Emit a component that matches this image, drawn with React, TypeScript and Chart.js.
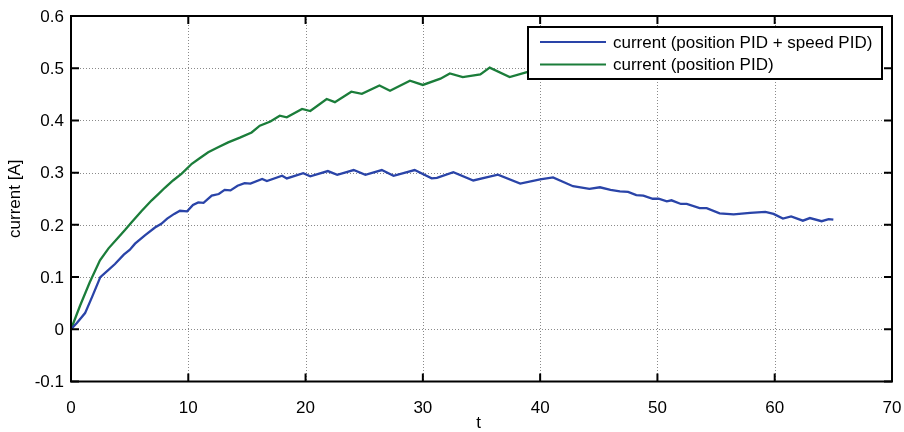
import { useEffect, useRef } from "react";
import { Chart, registerables } from "chart.js";

Chart.register(...registerables);

// Time samples and motor current for the cascaded controller
const tCascade = [
  0, 0.5, 1.2, 1.8, 2.5, 3.1, 3.75, 4.5, 5.0, 5.46, 6.3, 7.16, 7.7, 8.2, 8.8, 9.29, 9.9, 10.4, 10.85, 11.3,
  12.0, 12.6, 13.1, 13.6, 14.2, 14.8, 15.3, 16.3, 16.7, 18.0, 18.4, 19.8, 20.4, 21.9, 22.7, 24.1, 25.1, 26.5,
  27.5, 29.3, 30.75, 31.2, 32.6, 34.3, 36.4, 38.3, 40.0, 41.1, 42.8, 44.2, 45.1, 46.0, 46.8, 47.5, 48.2, 48.8,
  49.6, 50.1, 50.8, 51.2, 52.0, 52.5, 53.6, 54.2, 55.3, 56.5, 57.9, 59.2, 59.9, 60.7, 61.4, 62.4, 63.0, 64.0,
  64.6, 65.0,
];
const currentCascade = [
  0, 0.012, 0.031, 0.062, 0.1, 0.112, 0.125, 0.143, 0.152, 0.164, 0.18, 0.195, 0.202, 0.212, 0.221, 0.227,
  0.226, 0.238, 0.243, 0.242, 0.256, 0.259, 0.267, 0.266, 0.275, 0.28, 0.279, 0.288, 0.284, 0.294, 0.289,
  0.299, 0.293, 0.303, 0.296, 0.305, 0.296, 0.305, 0.294, 0.305, 0.289, 0.29, 0.301, 0.285, 0.296, 0.279,
  0.287, 0.291, 0.274, 0.269, 0.272, 0.267, 0.264, 0.263, 0.257, 0.256, 0.25, 0.25, 0.245, 0.247, 0.24, 0.24,
  0.232, 0.232, 0.222, 0.22, 0.223, 0.225, 0.221, 0.212, 0.216, 0.208, 0.213, 0.207, 0.211, 0.21,
];

// Time samples and motor current with the position loop only
const tPosition = [
  0, 0.77, 1.6, 2.47, 3.2, 4.03, 4.6, 5.17, 6.0, 6.88, 7.4, 8.0, 8.7, 9.44, 10.3, 11.0, 11.7, 12.5, 13.4, 14.4,
  15.4, 16.1, 17.0, 17.8, 18.4, 19.7, 20.4, 21.8, 22.5, 23.9, 24.8, 26.3, 27.2, 28.9, 30.0, 31.5, 32.3, 33.4,
  34.9, 35.7, 37.4, 38.8, 39.3,
];
const currentPosition = [
  0, 0.045, 0.09, 0.132, 0.155, 0.176, 0.19, 0.205, 0.226, 0.247, 0.258, 0.271, 0.285, 0.298, 0.317, 0.328,
  0.339, 0.348, 0.358, 0.367, 0.377, 0.39, 0.398, 0.409, 0.406, 0.422, 0.418, 0.441, 0.435, 0.455, 0.451,
  0.467, 0.457, 0.476, 0.468, 0.48, 0.49, 0.483, 0.488, 0.501, 0.483, 0.492, 0.495,
];

const xTicks = [0, 10, 20, 30, 40, 50, 60, 70];
const yTicks = [-0.1, 0, 0.1, 0.2, 0.3, 0.4, 0.5, 0.6];
const xTickLabels = ["0", "10", "20", "30", "40", "50", "60", "70"];
const yTickLabels = ["-0.1", "0", "0.1", "0.2", "0.3", "0.4", "0.5", "0.6"];
const seriesLabels = ["current (position PID + speed PID)", "current (position PID)"];
const seriesColors = ["#2a44a8", "#1b7d3a"];
const xTitle = "t";
const yTitle = "current [A]";

const FONT = "'Liberation Sans', Arial, Helvetica, sans-serif";

const framePlugin = {
  id: "matlabFrame",
  beforeDatasetsDraw(chart: any) {
    const { ctx, chartArea: a, scales } = chart;
    ctx.save();
    ctx.strokeStyle = "#8a8a8a";
    ctx.lineWidth = 1;
    ctx.setLineDash([1, 2]);
    for (const v of xTicks) {
      const x = Math.round(scales.x.getPixelForValue(v)) + 0.5;
      if (x <= a.left + 2 || x >= a.right - 2) continue;
      ctx.beginPath();
      ctx.moveTo(x, a.top);
      ctx.lineTo(x, a.bottom);
      ctx.stroke();
    }
    for (const v of yTicks) {
      const y = Math.round(scales.y.getPixelForValue(v)) + 0.5;
      if (y <= a.top + 2 || y >= a.bottom - 2) continue;
      ctx.beginPath();
      ctx.moveTo(a.left, y);
      ctx.lineTo(a.right, y);
      ctx.stroke();
    }
    ctx.restore();
  },
  afterDatasetsDraw(chart: any) {
    const { ctx, chartArea: a, scales } = chart;
    ctx.save();
    ctx.setLineDash([]);
    ctx.strokeStyle = "#000";
    ctx.lineWidth = 2;
    ctx.strokeRect(a.left, a.top, a.right - a.left, a.bottom - a.top);

    // inward tick marks on all four sides
    const tl = 8;
    ctx.beginPath();
    for (const v of xTicks) {
      const x = scales.x.getPixelForValue(v);
      ctx.moveTo(x, a.bottom);
      ctx.lineTo(x, a.bottom - tl);
      ctx.moveTo(x, a.top);
      ctx.lineTo(x, a.top + tl);
    }
    for (const v of yTicks) {
      const y = scales.y.getPixelForValue(v);
      ctx.moveTo(a.left, y);
      ctx.lineTo(a.left + tl, y);
      ctx.moveTo(a.right, y);
      ctx.lineTo(a.right - tl, y);
    }
    ctx.stroke();

    // tick labels
    ctx.fillStyle = "#000";
    ctx.font = `17px ${FONT}`;
    ctx.textBaseline = "middle";
    ctx.textAlign = "center";
    xTicks.forEach((v, i) => {
      ctx.fillText(xTickLabels[i], scales.x.getPixelForValue(v), a.bottom + 27);
    });
    ctx.textAlign = "right";
    yTicks.forEach((v, i) => {
      ctx.fillText(yTickLabels[i], a.left - 7, scales.y.getPixelForValue(v) + 1);
    });

    // legend box in the upper right corner
    const bx = 528, by = 27, bw = 354, bh = 52;
    ctx.fillStyle = "#fff";
    ctx.fillRect(bx, by, bw, bh);
    ctx.strokeRect(bx, by, bw, bh);
    ctx.font = `17px ${FONT}`;
    ctx.textBaseline = "middle";
    ctx.textAlign = "left";
    seriesLabels.forEach((label, i) => {
      const ly = by + 15 + i * 22.5;
      ctx.strokeStyle = seriesColors[i];
      ctx.lineWidth = 2;
      ctx.beginPath();
      ctx.moveTo(bx + 12, ly);
      ctx.lineTo(bx + 78, ly);
      ctx.stroke();
      ctx.fillStyle = "#000";
      ctx.fillText(label, bx + 85, ly + 1);
    });

    // axis titles
    ctx.fillStyle = "#000";
    ctx.font = `17px ${FONT}`;
    ctx.textAlign = "center";
    ctx.textBaseline = "middle";
    ctx.fillText(xTitle, (a.left + a.right) / 2 - 3, 423);
    ctx.translate(15, (a.top + a.bottom) / 2);
    ctx.rotate(-Math.PI / 2);
    ctx.fillText(yTitle, 0, 0);
    ctx.restore();
  },
};

export default function App() {
  const canvasRef = useRef<HTMLCanvasElement | null>(null);

  useEffect(() => {
    const canvas = canvasRef.current;
    if (!canvas) return;
    const toPoints = (xs: number[], ys: number[]) => xs.map((x, i) => ({ x, y: ys[i] }));
    const chart = new Chart(canvas, {
      type: "line",
      data: {
        datasets: [
          {
            label: seriesLabels[0],
            data: toPoints(tCascade, currentCascade),
            borderColor: seriesColors[0],
            borderWidth: 2.3,
            pointRadius: 0,
            tension: 0,
          },
          {
            label: seriesLabels[1],
            data: toPoints(tPosition, currentPosition),
            borderColor: seriesColors[1],
            borderWidth: 2.3,
            pointRadius: 0,
            tension: 0,
          },
        ],
      },
      options: {
        responsive: false,
        animation: false,
        events: [],
        layout: { padding: { top: 16, right: 12, left: 0, bottom: 0 } },
        plugins: { legend: { display: false }, tooltip: { enabled: false } },
        scales: {
          x: {
            type: "linear",
            min: 0,
            max: 70,
            grid: { display: false, drawTicks: false },
            border: { display: false },
            ticks: { display: false, stepSize: 10 },
            afterFit: (s: any) => {
              s.height = 50.5;
            },
          },
          y: {
            type: "linear",
            min: -0.1,
            max: 0.6,
            grid: { display: false, drawTicks: false },
            border: { display: false },
            ticks: { display: false, stepSize: 0.1 },
            afterFit: (s: any) => {
              s.width = 71;
            },
          },
        },
      },
      plugins: [framePlugin],
    });
    return () => chart.destroy();
  }, []);

  return (
    <div style={{ position: "fixed", left: 0, top: 0, width: 904, height: 432, background: "#fff" }}>
      <canvas ref={canvasRef} width={904} height={432} style={{ display: "block" }} />
    </div>
  );
}
